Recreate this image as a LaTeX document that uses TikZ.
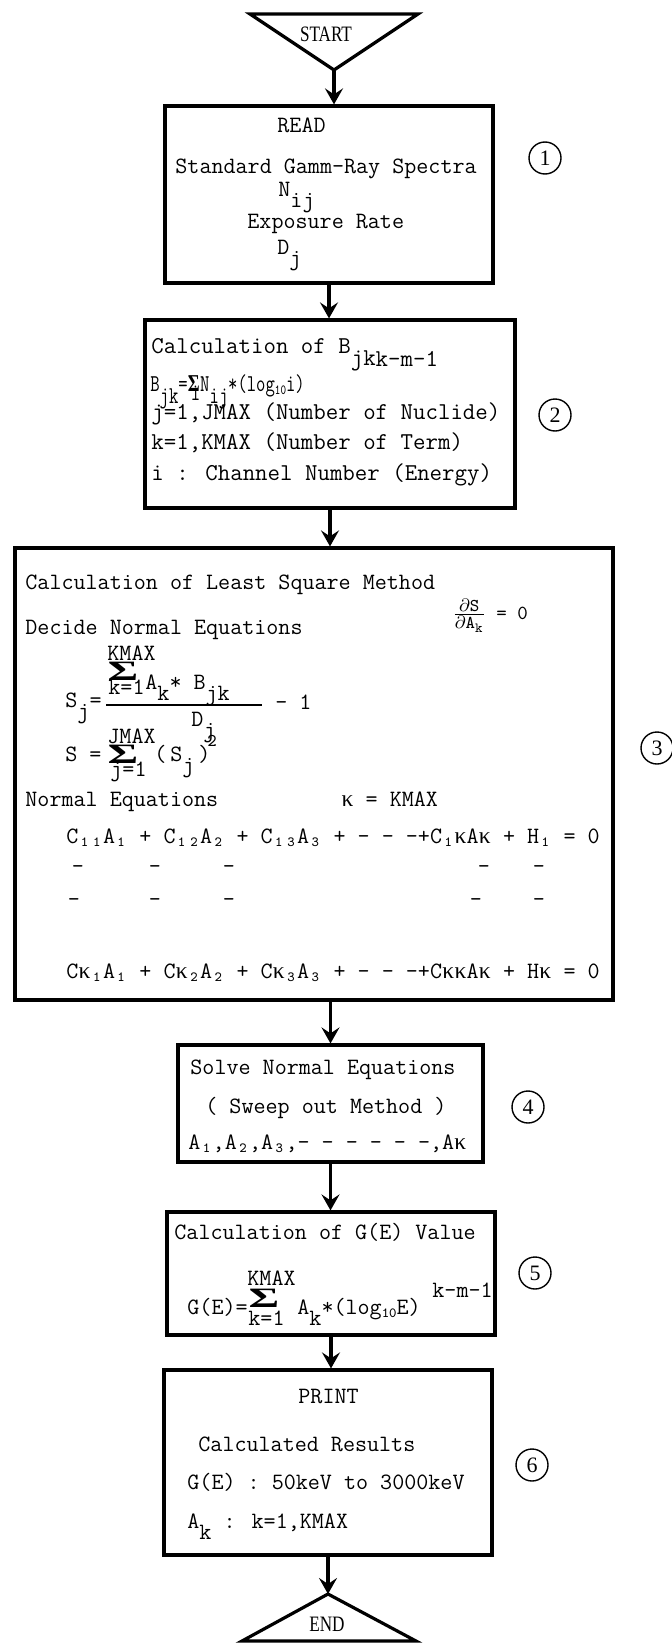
\documentclass[tikz,border=0pt]{standalone}
\usepackage{fontspec}
\usepackage{graphicx}
\newfontfamily\capfont{Liberation Serif}
\usetikzlibrary{arrows.meta}

% typewriter style sub/superscripts
\newcommand{\lowr}[1]{\raisebox{-0.5em}{#1}}
\newcommand{\smsub}[1]{\raisebox{-0.3ex}{\scriptsize #1}}
\newcommand{\cellsub}[1]{\makebox[0.525em][c]{\smsub{#1}}}
\newcommand{\kap}{\makebox[0.525em][c]{\capfont κ}}
\newcommand{\sigsym}{{\capfont\bfseries Σ}}
\newcommand{\bigsig}{\scalebox{2.0}[1.2]{\sigsym}}

\begin{document}
\begin{tikzpicture}[x=0.5pt,y=-0.5pt,
    box/.style={draw,line width=1.6pt,inner sep=0pt},
    flow/.style={line width=1.6pt,-{Stealth[length=8pt,width=9pt,inset=3pt]}},
    txt/.style={anchor=base west,inner sep=0pt,font=\ttfamily\fontsize{11.7pt}{14pt}\selectfont},
    txtb/.style={txt,font=\ttfamily\fontsize{12.1pt}{14pt}\selectfont},
    num/.style={draw,circle,line width=0.7pt,minimum size=16pt,inner sep=0pt,
        font=\capfont\fontsize{11pt}{12pt}\selectfont},
    term/.style={inner sep=0pt,font=\capfont\fontsize{11pt}{12pt}\selectfont}]

    \path[use as bounding box,fill=white] (0,0) rectangle (672,1643);

    % Start
    \coordinate (startapex) at (334,70);
    \draw[line width=1.6pt] (250,14) -- (418,14) -- (startapex) -- cycle;
    \node[term] (start) at (326,34) {\scalebox{0.78}[1]{START}};

    % Boxes
    \node[box,minimum width=164pt,minimum height=88.5pt] (read) at (329,194.5) {};
    \node[box,minimum width=185pt,minimum height=94pt] (calcb) at (330,414) {};
    \node[box,minimum width=299pt,minimum height=226pt] (lsq) at (314,774) {};
    \node[box,minimum width=152.5pt,minimum height=58.5pt] (solve) at (330.5,1103.5) {};
    \node[box,minimum width=164pt,minimum height=61.5pt] (gval) at (331,1273.5) {};
    \node[box,minimum width=164pt,minimum height=92.5pt] (result) at (328,1462.5) {};

    % End
    \coordinate (endapex) at (328,1594);
    \draw[line width=1.6pt] (endapex) -- (416,1641) -- (242,1641) -- cycle;
    \node[term] (end) at (327,1624) {\scalebox{0.78}[1]{END}};

    % Arrows
    \draw[flow] (startapex) -- (startapex |- read.north);
    \draw[flow] (read.south) -- (read.south |- calcb.north);
    \draw[flow] (calcb.south) -- (calcb.south |- lsq.north);
    \draw[flow] (solve.north |- lsq.south) -- (solve.north);
    \draw[flow] (solve.south) -- (solve.south |- gval.north);
    \draw[flow] (gval.south) -- (gval.south |- result.north);
    \draw[flow] (result.south) -- (endapex);

    % 1: READ
    \node[txt] (rdhead) at (277,133) {READ};
    \node[txt] (rdspec) at (175,173) {Standard Gamm-Ray Spectra};
    \node[txt] (rdnij) at (278,196) {N\lowr{ij}};
    \node[txt] (rdexp) at (247,228) {Exposure Rate};
    \node[txt] (rddj) at (277,254) {D\lowr{j}};

    % 2: B_jk
    \node[txtb] (cbhead) at (151,353)
        {Calculation of B\lowr{jk}\raisebox{-0.55em}{k-m-1}};
    \node[txtb] (cbform) at (150,391)
        {\scalebox{0.75}[1]{B\lowr{jk}=\rlap{\sigsym}\raisebox{-0.4em}{\,i}N\lowr{ij}*(log\smsub{1}\smsub{0}i)}};
    \node[txtb] (cbj) at (151,419) {j=1,JMAX (Number of Nuclide)};
    \node[txtb] (cbk) at (151,449) {k=1,KMAX (Number of Term)};
    \node[txtb] (cbi) at (151,480) {i : Channel Number (Energy)};

    % 3: least squares
    \node[txt] (lshead) at (25,589) {Calculation of Least Square Method};
    \node[txt] (lsdsda) at (452,619)
        {\small$\frac{\mbox{$\partial$S}}{\mbox{$\partial$A}_{\mbox{\scriptsize k}}}$\normalsize\ = 0};
    \node[txt] (lsdec) at (25,634) {Decide Normal Equations};
    \node[txt] (kmaxa) at (107,660) {KMAX};
    \node[txt,anchor=base] (siga) at (123,680) {\bigsig};
    \node[txt] (klima) at (108,694) {k=1};
    \node[txt] (numa) at (145,689) {A\lowr{k}* B\lowr{jk}};
    \node[txt] (sjlhs) at (65,707) {S\lowr{j}=};
    \draw[line width=0.7pt] (106,705) -- (262,705);
    \node[txt] (dja) at (191,726) {D\lowr{j}};
    \node[txt] (mone) at (275,709) {- 1};
    \node[txt] (jmaxa) at (107,743) {JMAX};
    \node[txt,anchor=base] (sigb) at (123,763) {\bigsig};
    \node[txt] (slhs) at (65,761) {S =};
    \node[txt] (jlim) at (110,776) {j=1};
    \node[txt] (ssq) at (154,761) {(\,S\lowr{j}\,)};
    \node[txt] (sqtwo) at (207,746) {\small 2};
    \node[txt] (lsnorm) at (25,806) {Normal Equations};
    \node[txt] (lskmax) at (341,806) {\kap{} = KMAX};
    \node[txt] (eqone) at (66,843)
        {C\cellsub{1}\cellsub{1}A\cellsub{1} + C\cellsub{1}\cellsub{2}A\cellsub{2} + C\cellsub{1}\cellsub{3}A\cellsub{3} + - - -+C\cellsub{1}\kap A\kap{} + H\cellsub{1} = 0};
    \foreach \dx [count=\i] in {78,155,229,484,539}
        \node[txt,anchor=base] (da\i) at (\dx,873) {-};
    \foreach \dx [count=\i] in {74,155,229,476,539}
        \node[txt,anchor=base] (db\i) at (\dx,906) {-};
    \node[txt] (eqk) at (66,978)
        {C\kap\cellsub{1}A\cellsub{1} + C\kap\cellsub{2}A\cellsub{2} + C\kap\cellsub{3}A\cellsub{3} + - - -+C\kap\kap A\kap{} + H\kap{} = 0};

    % 4: solve
    \node[txt] (svhead) at (190,1074) {Solve Normal Equations};
    \node[txt] (svsweep) at (205,1113) {( Sweep out Method )};
    \node[txt] (svlist) at (188,1149) {A\cellsub{1},A\cellsub{2},A\cellsub{3},- - - - - -,A\kap};

    % 5: G(E)
    \node[txt] (gehead) at (174,1239) {Calculation of G(E) Value};
    \node[txt] (kmaxb) at (247,1285) {KMAX};
    \node[txt,anchor=base] (sigc) at (264,1307) {\bigsig};
    \node[txt] (gelhs) at (187,1314) {G(E)=};
    \node[txt] (klimb) at (248,1325) {k=1};
    \node[txt] (gerhs) at (297,1314) {A\lowr{k}*(log\smsub{1}\smsub{0}E)};
    \node[txt] (geexp) at (432,1297) {k-m-1};

    % 6: PRINT
    \node[txt] (prhead) at (298,1403) {PRINT};
    \node[txt] (prres) at (198,1451) {Calculated Results};
    \node[txt] (prge) at (187,1489) {G(E) : 50keV to 3000keV};
    \node[txt] (prak) at (187,1528) {A\lowr{k} : k=1,KMAX};

    % Step numbers
    \node[num] (n1) at (545,158) {1};
    \node[num] (n2) at (555,415) {2};
    \node[num] (n3) at (657,748) {3};
    \node[num] (n4) at (528,1107) {4};
    \node[num] (n5) at (535,1273) {5};
    \node[num] (n6) at (532,1465) {6};
\end{tikzpicture}
\end{document}
